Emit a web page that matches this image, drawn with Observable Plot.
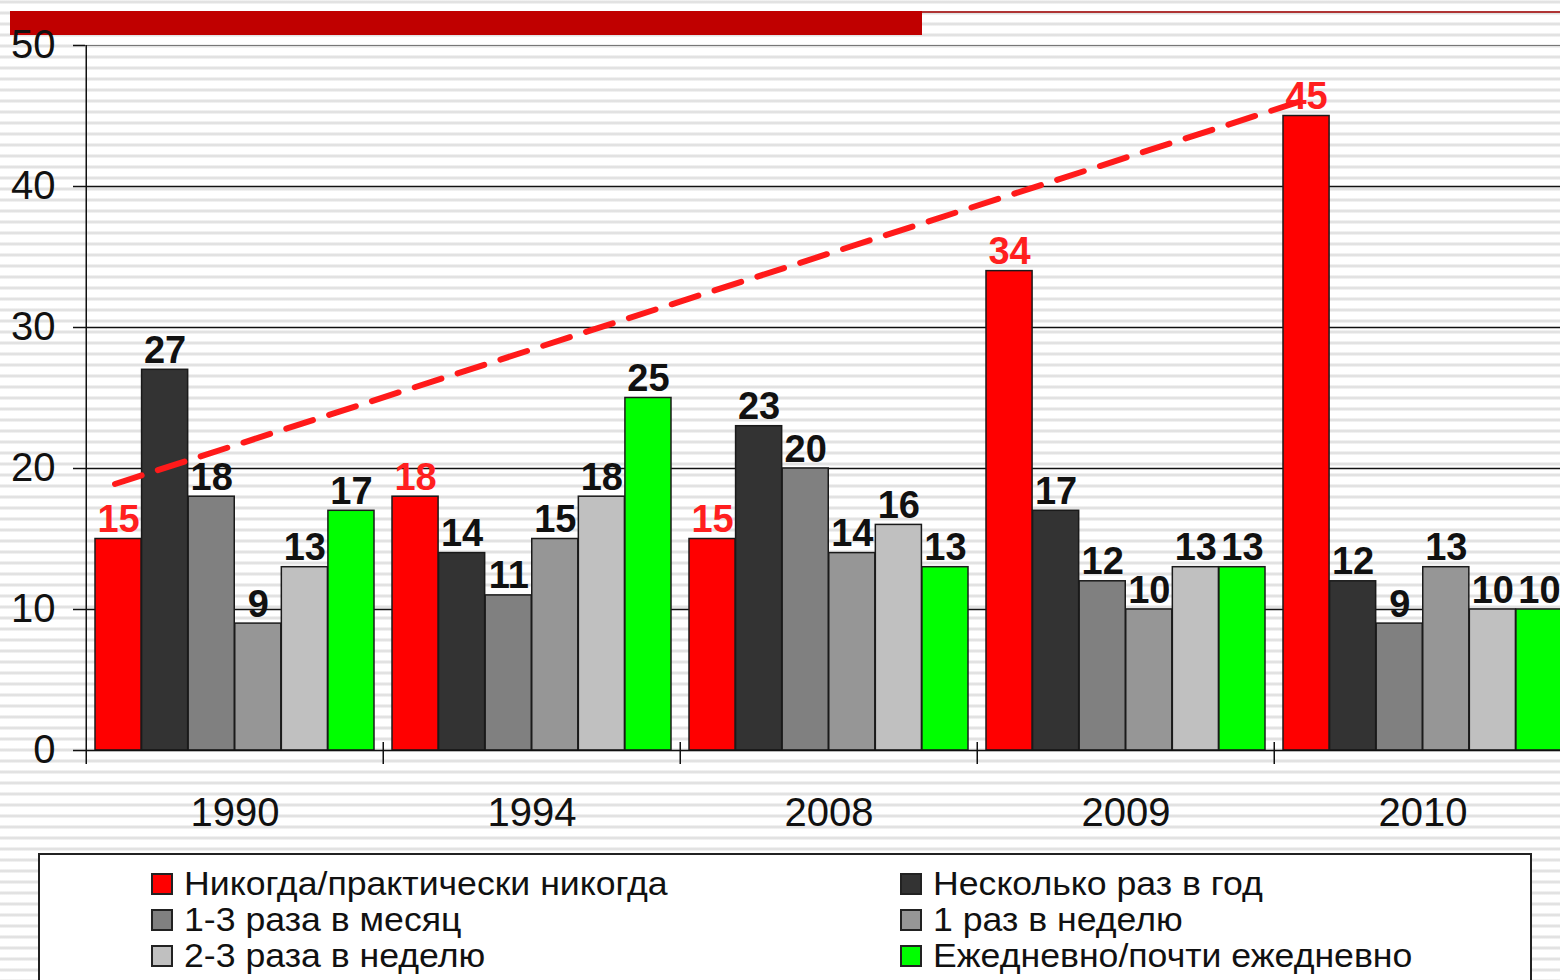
<!DOCTYPE html>
<html><head><meta charset="utf-8">
<script src="https://cdn.jsdelivr.net/npm/d3@7"></script>
<script src="https://cdn.jsdelivr.net/npm/@observablehq/plot@0.6"></script>
<style>
html,body{margin:0;padding:0;}
body{width:1560px;height:980px;overflow:hidden;background:repeating-linear-gradient(to bottom,#fff 0px,#e2e2e2 1px,#e2e2e2 3px,#fff 4px,#fff 11px);font-family:Arial,"Liberation Sans",sans-serif;}
#wrap{position:relative;width:1560px;height:980px;overflow:hidden;}
#topbar{position:absolute;left:10px;top:11px;width:912px;height:24px;background:#c00000;}
#topline{position:absolute;left:922px;top:11px;width:640px;height:2px;background:#b03535;}
#chart{position:absolute;left:0;top:0;}
#legend{position:absolute;left:38px;top:853px;width:1494px;height:150px;border:2px solid #222;background:#fff;box-sizing:border-box;}
.item{position:absolute;display:flex;align-items:center;height:36px;font-size:33px;line-height:36px;color:#111;white-space:nowrap;}
.item span.t{display:inline-block;transform:scaleX(1.08);transform-origin:left center;}
.sw{width:18px;height:18px;border:2px solid #222;margin-right:11px;flex:none;}
</style></head>
<body>
<div id="wrap">
  <div id="topbar"></div>
  <div id="topline"></div>
  <div id="chart"></div>
  <div id="legend"></div>
</div>
<script>
// ---- data ----
const years = ["1990", "1994", "2008", "2009", "2010"];
const series = [
  "Никогда/практически никогда",
  "Несколько раз в год",
  "1-3 раза в месяц",
  "1 раз в неделю",
  "2-3 раза в неделю",
  "Ежедневно/почти ежедневно"
];
const colors = ["#ff0000", "#333333", "#808080", "#969696", "#c0c0c0", "#00ff00"];
const never = [15, 18, 15, 34, 45];
const fewPerYear = [27, 14, 23, 17, 12];
const monthly = [18, 11, 20, 12, 9];
const weekly = [9, 15, 14, 10, 13];
const twoThreeWeekly = [13, 18, 16, 13, 10];
const daily = [17, 25, 13, 13, 10];
const trendYears = ["1990", "2010"];
const trendValues = [18.9, 46.1];
const yTicks = [0, 10, 20, 30, 40, 50];

const seriesValues = [never, fewPerYear, monthly, weekly, twoThreeWeekly, daily];
const rows = series.flatMap((s, j) => years.map((y, i) => ({year: y, series: s, j, value: seriesValues[j][i]})));
const trend = trendYears.map((y, i) => ({year: y, value: trendValues[i]}));

// ---- layout ----
const x0 = 85, x1 = 1572.5;
const bw = (x1 - x0) / years.length;
const pad = 9;
const w = (bw - 2 * pad) / series.length;

const barMarks = series.map((s, j) => Plot.barY(rows.filter(d => d.j === j), {
  x: "year", y: "value", fill: "series",
  stroke: "#1a1a1a", strokeWidth: 1.5,
  insetLeft: pad + j * w, insetRight: bw - pad - (j + 1) * w
}));
const labelMarks = series.map((s, j) => Plot.text(rows.filter(d => d.j === j), {
  x: "year", y: "value", text: d => String(d.value),
  dx: -bw / 2 + pad + (j + 0.5) * w, dy: -7, lineAnchor: "bottom",
  fontSize: 38, fontWeight: "bold", fill: j === 0 ? "#ff1f1f" : "#111"
}));

const chart = Plot.plot({
  width: 1560, height: 850,
  marginLeft: x0, marginRight: 0, marginTop: 45, marginBottom: 100,
  style: {fontFamily: "Arial, 'Liberation Sans', sans-serif", background: "transparent"},
  x: {domain: years, range: [x0, x1], padding: 0, axis: null, label: null},
  y: {domain: [0, 50], range: [750, 45], axis: null, label: null},
  color: {domain: series, range: colors},
  marks: [
    Plot.ruleY(yTicks.filter(d => d > 0 && d < 50), {stroke: "#111", strokeWidth: 1.5}),
    Plot.ruleY([50], {stroke: "#777", strokeWidth: 1}),
    Plot.axisY({ticks: yTicks, label: null, tickSize: 12, tickPadding: 18, fontSize: 40, color: "#111", strokeWidth: 1.5, tickFormat: d => String(d)}),
    Plot.axisX({label: null, tickSize: 0, tickPadding: 47, fontSize: 40, color: "#111"}),
    ...barMarks,
    Plot.ruleY([0], {stroke: "#111", strokeWidth: 1.5}),
    Plot.ruleX(["1990"], {dx: -bw / 2, y1: 50, y2: 0, insetBottom: -14, stroke: "#111", strokeWidth: 1.5}),
    Plot.ruleX(years.slice(1), {dx: -bw / 2, y1: 0, y2: 0, insetTop: -8, insetBottom: -14, stroke: "#111", strokeWidth: 1.5}),
    ...labelMarks,
    Plot.lineY(trend, {x: "year", y: "value", dx: -120, stroke: "#ff1a1a", strokeWidth: 6, strokeDasharray: "28,17"})
  ]
});
document.getElementById("chart").append(chart);

// ---- legend ----
const legend = document.getElementById("legend");
series.forEach((s, i) => {
  const row = Math.floor(i / 2), col = i % 2;
  const item = document.createElement("div");
  item.className = "item";
  item.style.left = (col === 0 ? 111 : 860) + "px";
  item.style.top = (11 + row * 36) + "px";
  const sw = document.createElement("span");
  sw.className = "sw";
  sw.style.background = colors[i];
  const t = document.createElement("span");
  t.className = "t";
  t.textContent = s;
  item.append(sw, t);
  legend.append(item);
});
</script>
</body></html>
